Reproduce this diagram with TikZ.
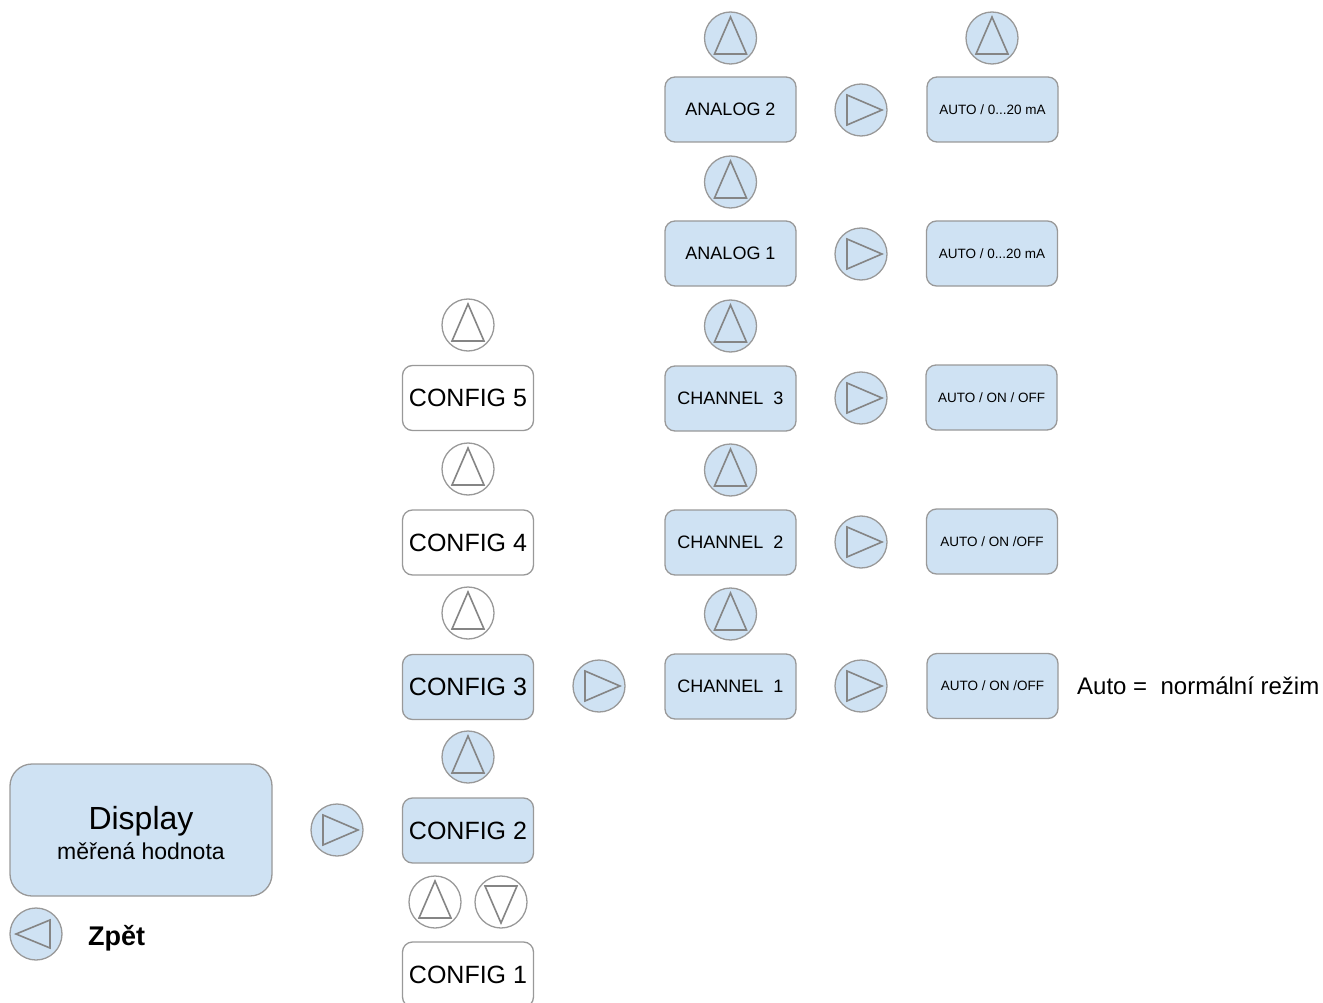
\documentclass[tikz,border=0pt]{standalone}
\usepackage{fontspec}
\setmainfont{Liberation Sans}
\definecolor{lb}{HTML}{CFE2F3}
\definecolor{bd}{HTML}{999999}
\definecolor{tr}{HTML}{858585}
\tikzset{
  fs/.style={font=\fontsize{#1}{#1}\selectfont},
  btn/.style={circle, draw=bd, line width=1.3pt, fill=lb, minimum size=52pt, inner sep=0pt},
  wbtn/.style={btn, fill=white},
  trip/.style={tr, line width=1.6pt, line join=miter},
  up/.style={path picture={\draw[trip, shift={(path picture bounding box.center)}] (0,-21) -- (16,16) -- (-16,16) -- cycle;}},
  down/.style={path picture={\draw[trip, shift={(path picture bounding box.center)}] (0,21) -- (16,-16) -- (-16,-16) -- cycle;}},
  right/.style={path picture={\draw[trip, shift={(path picture bounding box.center)}] (-14,-15) -- (21,0) -- (-14,15) -- cycle;}},
  left/.style={path picture={\draw[trip, shift={(path picture bounding box.center)}] (14,-14) -- (-20,0) -- (14,14) -- cycle;}},
  box/.style={rectangle, rounded corners=10pt, draw=bd, line width=1.3pt, fill=lb, minimum width=131pt, minimum height=65pt, inner sep=0pt},
  wbox/.style={box, fill=white},
  cfg/.style={fs=25},
  chn/.style={fs=18},
  val/.style={fs=13.5},
}
\begin{document}
\begin{tikzpicture}[x=1pt, y=-1pt]
\useasboundingbox (0,0) rectangle (1323,1003);
\clip (0,0) rectangle (1323,1003);
% Display
\node[box, rounded corners=22pt, minimum width=262pt, minimum height=132pt] (disp) at (141,830) {};
\node[fs=32, anchor=base] (dispt) at (141,829) {Display};
\node[fs=23, anchor=base] (dsub) at (141,859) {měřená hodnota};
\node[btn, right] (rd) at (337,830) {};
\node[btn, left] (back) at (36,934) {};
\node[font=\fontsize{27}{27}\selectfont\bfseries, anchor=base west, inner sep=0pt] (zpet) at (88,945) {Zpět};
% Config column
\node[wbtn, up] (u5) at (468,325) {};
\node[wbox, cfg] (c5) at (468,398) {CONFIG 5};
\node[wbtn, up] (u4) at (468,469) {};
\node[wbox, cfg] (c4) at (468,542.5) {CONFIG 4};
\node[wbtn, up] (u3) at (468,613) {};
\node[box, cfg] (c3) at (468,687) {CONFIG 3};
\node[btn, up] (u2) at (468,757) {};
\node[box, cfg] (c2) at (468,830.5) {CONFIG 2};
\node[wbtn, up] (u1) at (435,902) {};
\node[wbtn, down] (d1) at (501,902) {};
\node[wbox, cfg] (c1) at (468,974.5) {CONFIG 1};
\node[btn, right] (rc3) at (599,686) {};
% Channel column
\node[btn, up] (ua2) at (730.5,38) {};
\node[box, chn] (a2) at (730.5,109.5) {ANALOG 2};
\node[btn, up] (ua1) at (730.5,182) {};
\node[box, chn] (a1) at (730.5,253.5) {ANALOG 1};
\node[btn, up] (uch3) at (730.5,326) {};
\node[box, chn] (ch3) at (730.5,398.5) {CHANNEL~~3};
\node[btn, up] (uch2) at (730.5,470) {};
\node[box, chn] (ch2) at (730.5,542.5) {CHANNEL~~2};
\node[btn, up] (uch1) at (730.5,614) {};
\node[box, chn] (ch1) at (730.5,686.5) {CHANNEL~~1};
% right arrows
\node[btn, right] (ra2) at (861,110) {};
\node[btn, right] (ra1) at (861,254) {};
\node[btn, right] (rch3) at (861,398) {};
\node[btn, right] (rch2) at (861,542) {};
\node[btn, right] (rch1) at (861,686) {};
% values
\node[btn, up] (uv) at (992,38) {};
\node[box, val] (va2) at (992.5,109.5) {AUTO / 0...20 mA};
\node[box, val] (va1) at (992,253.5) {AUTO / 0...20 mA};
\node[box, val] (vch3) at (991.5,397.5) {AUTO / ON / OFF};
\node[box, val] (vch2) at (992,541.5) {AUTO / ON /OFF};
\node[box, val] (vch1) at (992.5,686) {AUTO / ON /OFF};
\node[fs=24, anchor=base west, inner sep=0pt] (note) at (1077,694) {Auto = ~normální režim};
\end{tikzpicture}
\end{document}
